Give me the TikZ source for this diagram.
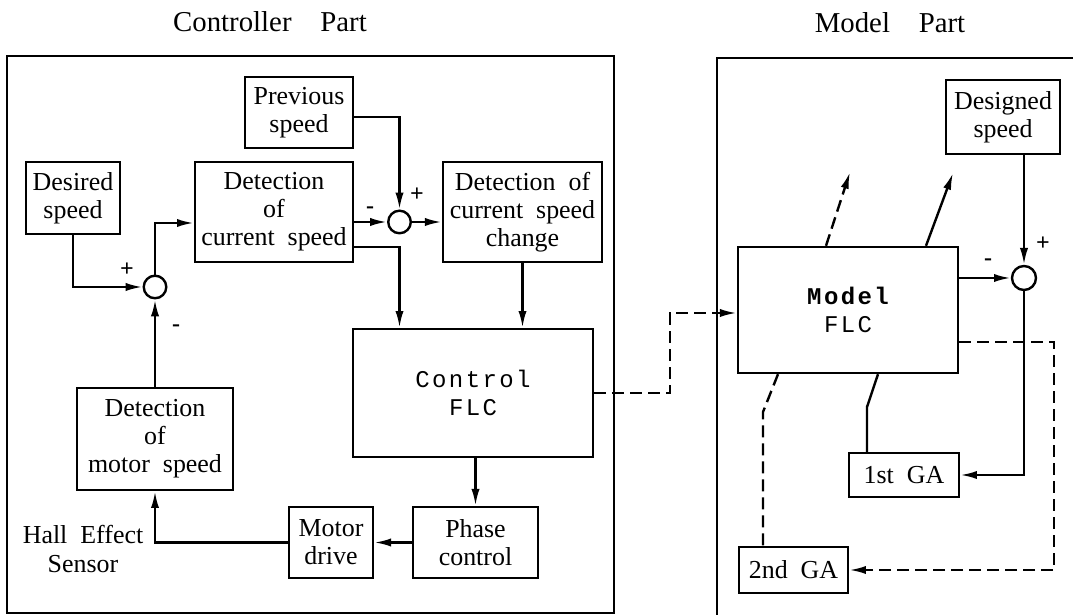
\documentclass[tikz,border=0pt]{standalone}
\usepackage{fontspec}
\setmainfont{Liberation Serif}
\newfontfamily\flcfont[LetterSpace=10]{Liberation Mono}
\usetikzlibrary{arrows.meta,calc}

\begin{document}
\begin{tikzpicture}[x=0.4167pt,y=-0.4167pt]
  \tikzstyle{every node}+=[inner sep=0pt]
  \tikzstyle{blk}=[draw, line width=1pt, align=center, font=\fontsize{10.8}{11.6}\selectfont]
  \tikzstyle{flc}=[draw, line width=1pt, align=center, font=\flcfont\fontsize{10}{11.5}\selectfont]
  \tikzstyle{sumpt}=[draw, circle, line width=1pt, minimum size=9.4pt]
  \tikzstyle{wire}=[line width=1pt]
  \tikzstyle{arr}=[line width=1pt, -{Latex[length=7pt,width=3.4pt]}]
  \tikzstyle{dashwire}=[line width=1pt, dash pattern=on 5pt off 2.5pt]
  \tikzstyle{sign}=[font=\bfseries]
  \useasboundingbox (0,0) rectangle (1073,615);
  \node (ctitle) at (270,22) {\large Controller\quad Part};
  \node (mtitle) at (890,23) {\large Model\quad Part};
  \draw [wire] (7,56) rectangle (614,613);
  \draw [wire] (1080,58) -- (717,58) -- (717,620);
  \node [blk, minimum width=45pt, minimum height=29.6pt] (prev) at (299,112.5) {Previous\\speed};
  \node [blk, minimum width=39.2pt, minimum height=30pt] (des) at (73,198) {Desired\\speed};
  \node [blk, minimum width=65.8pt, minimum height=41.7pt] (detcur) at (274,212) {Detection\\of\\current\ \ speed};
  \node [blk, minimum width=66.3pt, minimum height=41.7pt] (detchg) at (522.5,212) {Detection\ \ of\\current\ \ speed\\change};
  \node [blk, minimum width=65pt, minimum height=42.5pt] (detmot) at (155,439) {Detection\\of\\motor\ \ speed};
  \node [flc, minimum width=100pt, minimum height=53.3pt] (ctrl) at (473,393) {Control\\FLC};
  \node [blk, minimum width=52.1pt, minimum height=29.6pt] (phase) at (475.5,542.5) {Phase\\control};
  \node [blk, minimum width=35pt, minimum height=29.6pt] (motor) at (331,542.5) {Motor\\drive};
  \node [align=center, font=\fontsize{10.8}{12}\selectfont] (hall) at (83,549) {Hall\ \ Effect\\Sensor};
  \node [sumpt] (sumA) at (399.5,222) {};
  \node [sumpt] (sumB) at (155,287) {};
  \node [sign] (pA) at (417,195) {+};
  \node [sign] (mA) at (370,210) {-};
  \node [sign] (pB) at (127,270) {+};
  \node [sign] (mB) at (176,328) {-};
  \draw [arr] ($(prev.east)+(0,4.5)$) -| (sumA);
  \draw [arr] (detcur.east |- sumA) -- (sumA);
  \draw [arr] (sumA) -- (detchg.west |- sumA);
  \draw [arr] ($(detcur.east)+(0,35)$) -| (ctrl.north -| sumA);
  \draw [arr] (detchg.south) -- (detchg.south |- ctrl.north);
  \draw [arr] (des.south) |- (sumB);
  \draw [arr] (sumB) |- ($(detcur.west)+(0,11)$);
  \draw [arr] (detmot) -- (sumB);
  \draw [arr] (phase.north |- ctrl.south) -- (phase.north);
  \draw [arr] (phase) -- (motor);
  \draw [arr] (motor.west) -| (detmot.south);
  \node [blk, minimum width=47.5pt, minimum height=30.8pt] (designed) at (1003,117) {Designed\\speed};
  \node [flc, minimum width=91.7pt, minimum height=52.5pt] (model) at (848,310) {\bfseries Model\\FLC};
  \node [blk, minimum width=45.8pt, minimum height=18.3pt] (ga1) at (904,475) {1st\ \ GA};
  \node [blk, minimum width=45.4pt, minimum height=19.2pt] (ga2) at (793.5,570) {2nd\ \ GA};
  \node [sumpt, minimum size=10pt] (sumC) at (1024,278) {};
  \node [sign] (pC) at (1043,244) {+};
  \node [sign] (mC) at (988,262) {-};
  \coordinate (jog) at (670,313);
  \draw [dashwire, arr] (ctrl.east) -| (jog) -- (jog -| model.west);
  \draw [arr] (designed.south -| sumC) -- (sumC);
  \draw [arr] (model.east |- sumC) -- (sumC);
  \draw [arr] (sumC) |- (ga1.east);
  \coordinate (kinkA) at (867,407);
  \draw [wire] ($(model.south)+(30,0)$) -- (kinkA) -- (kinkA |- ga1.north);
  \coordinate (kinkB) at (763,412);
  \draw [dashwire] ($(model.south)+(-70,0)$) -- (kinkB) -- (kinkB |- ga2.north);
  \draw [dashwire, arr] ($(model.east)+(0,32)$) -| ($(ga2.east)+(205,0)$) -- (ga2.east);
  \coordinate (outA) at (850,172);
  \coordinate (outB) at (953,173);
  \draw [dashwire, arr] ($(model.north)+(-22,0)$) -- (outA);
  \draw [arr] ($(model.north)+(78,0)$) -- (outB);
\end{tikzpicture}
\end{document}
